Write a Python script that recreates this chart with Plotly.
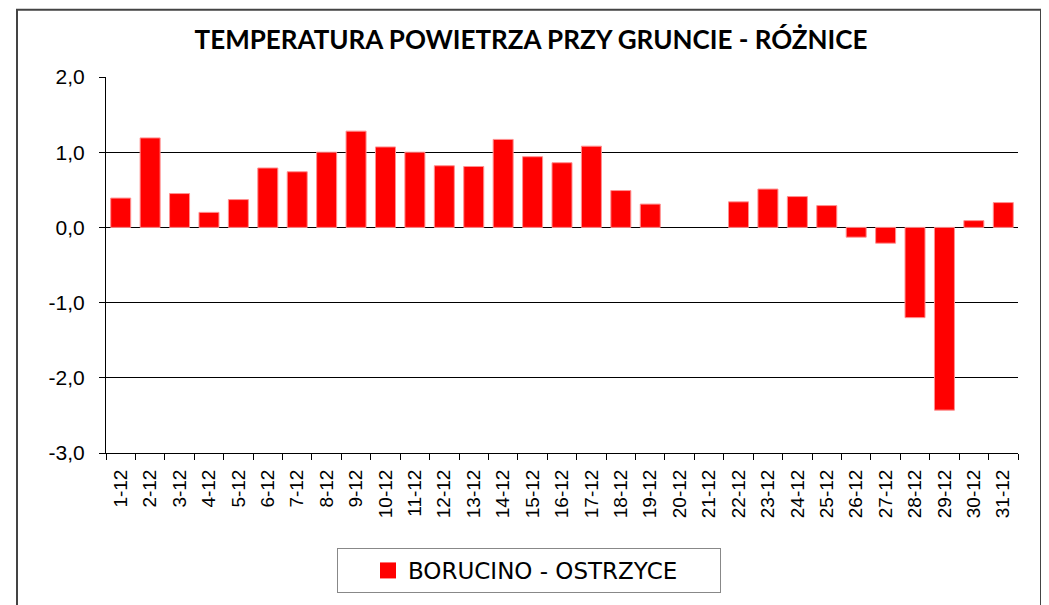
import plotly.graph_objects as go

days = [f"{d}-12" for d in range(1, 32)]
values = [0.39, 1.19, 0.45, 0.20, 0.37, 0.79, 0.74, 1.00, 1.28, 1.07,
          1.00, 0.82, 0.81, 1.17, 0.94, 0.86, 1.08, 0.49, 0.31, None,
          None, 0.34, 0.51, 0.41, 0.29, -0.13, -0.21, -1.20, -2.43, 0.09,
          0.33]
series_name = "BORUCINO - OSTRZYCE"
title = "TEMPERATURA POWIETRZA PRZY GRUNCIE - RÓŻNICE"
y_ticks = [2.0, 1.0, 0.0, -1.0, -2.0, -3.0]
y_ticktext = ["2,0", "1,0", "0,0", "-1,0", "-2,0", "-3,0"]

# page body has an 8px margin; work in figure coordinates
O = 8
W, H = 1049 - O, 605 - O
L, R, T, B = 106 - O, 1018 - O, 77 - O, 457 - O


def px(x):
    return (x - O - L) / (R - L)


def py(y):
    return (B - (y - O)) / (B - T)


fig = go.Figure()
fig.add_trace(go.Bar(
    x=days, y=values, name=series_name,
    marker=dict(color="#FF0000", line=dict(color="#FF9090", width=1)),
    showlegend=False,
))
# legend entry (square marker like the reference legend key)
fig.add_trace(go.Scatter(
    x=[days[0]], y=[None], name=series_name, mode="markers",
    marker=dict(color="#FF0000", symbol="square", size=16),
    showlegend=True, hoverinfo="skip",
))

fig.update_layout(
    width=W, height=H,
    margin=dict(l=L, r=W - R, t=T, b=H - B),
    paper_bgcolor="white", plot_bgcolor="white",
    separators=", ",
    bargap=0.32,
    title=dict(text="<b>" + title + "</b>", x=(531 - O) / W, xanchor="center",
               y=1 - (40 - O) / H, yanchor="middle",
               font=dict(family="Lato", size=26, color="black")),
    showlegend=True,
    legend=dict(x=px(337), xanchor="left", y=py(553), yanchor="top",
                orientation="h", bordercolor="#888888", borderwidth=1,
                font=dict(family="DejaVu Sans", size=23, color="black"),
                itemsizing="trace", indentation=30,
                entrywidth=307, entrywidthmode="pixels"),
    xaxis=dict(type="category", range=[-0.5, len(days) - 0.5],
               tickangle=-90, ticks="outside",
               tickson="boundaries", ticklen=6, tickcolor="black",
               showline=True, linecolor="black", linewidth=1,
               showgrid=False, mirror=False, ticklabelstandoff=8,
               tickfont=dict(family="Liberation Sans", size=19, color="black")),
    yaxis=dict(range=[-3, 2], tickvals=y_ticks, ticktext=y_ticktext,
               ticks="outside", ticklen=6, tickcolor="black",
               showline=True, linecolor="black", linewidth=1,
               showgrid=True, gridcolor="black", gridwidth=1,
               zeroline=True, zerolinecolor="black", zerolinewidth=1,
               ticklabelstandoff=10,
               tickfont=dict(family="Liberation Sans", size=21, color="black")),
    shapes=[dict(type="rect", xref="paper", yref="paper",
                 x0=px(17), x1=px(1041), y0=py(620), y1=py(9),
                 line=dict(color="#444444", width=2), layer="below")],
)

fig.write_html("out.html")
